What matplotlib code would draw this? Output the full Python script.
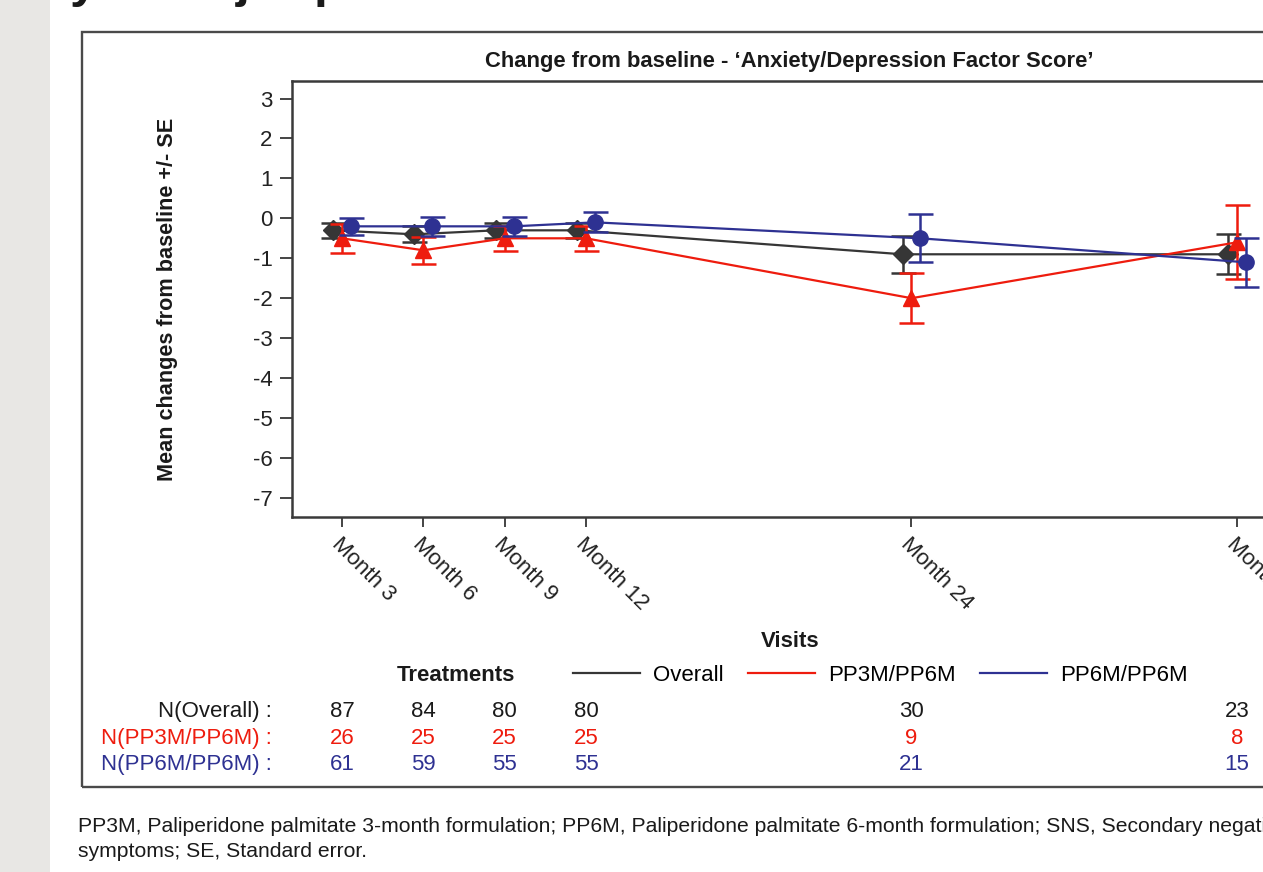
import matplotlib
matplotlib.use("Agg")
import matplotlib.pyplot as plt
import matplotlib.transforms as mtransforms
from matplotlib.patches import Rectangle
from matplotlib.lines import Line2D

plt.rcParams['font.family'] = ['Liberation Sans', 'DejaVu Sans']

# data
visits = ["Month 3", "Month 6", "Month 9", "Month 12", "Month 24", "Month 36"]
months = [3, 6, 9, 12, 24, 36]

overall_mean = [-0.3, -0.4, -0.3, -0.3, -0.9, -0.9]
overall_se = [0.19, 0.2, 0.18, 0.19, 0.47, 0.5]
pp3m_mean = [-0.5, -0.8, -0.5, -0.5, -2.0, -0.6]
pp3m_se = [0.37, 0.34, 0.32, 0.32, 0.63, 0.93]
pp6m_mean = [-0.2, -0.2, -0.2, -0.1, -0.5, -1.1]
pp6m_se = [0.22, 0.24, 0.24, 0.25, 0.6, 0.62]

n_overall = [87, 84, 80, 80, 30, 23]
n_pp3m = [26, 25, 25, 25, 9, 8]
n_pp6m = [61, 59, 55, 55, 21, 15]

yticks = [3, 2, 1, 0, -1, -2, -3, -4, -5, -6, -7]

c_all = "#363636"
c_red = "#ee1c0e"
c_blue = "#2e3192"

W, H = 1263, 872
fig = plt.figure(figsize=(W / 100, H / 100), dpi=100)

def fx(px):
    return px / W

def fy(py):
    return 1 - py / H

# page background bits
fig.patches.append(Rectangle((0, 0), fx(50), 1, transform=fig.transFigure,
                             facecolor="#e8e7e4", edgecolor="none", zorder=0))
fig.patches.append(Rectangle((fx(82), fy(787)), 1.0, fy(32) - fy(787),
                             transform=fig.transFigure, facecolor="none",
                             edgecolor="#4a4a4a", linewidth=1.7, zorder=1))
# cut-off heading above the frame
for ch, x in [("y", 70), ("j", 236), ("p", 314)]:
    fig.text(fx(x), 1.003, ch, fontsize=36, fontweight="bold", va="baseline",
             ha="left", color="#1a1a1a")

ax = fig.add_axes([fx(292), fy(517), fx(1286) - fx(292), fy(81) - fy(517)])

dodge = 0.33
ekw = dict(lw=1.6, elinewidth=1.8, capsize=9, capthick=1.8)
ax.errorbar([m - dodge for m in months], overall_mean, yerr=overall_se,
            color=c_all, marker="D", ms=10.5, zorder=3, **ekw)
ax.errorbar(months, pp3m_mean, yerr=pp3m_se, color=c_red, marker="^",
            ms=11, zorder=4, **ekw)
ax.errorbar([m + dodge for m in months], pp6m_mean, yerr=pp6m_se,
            color=c_blue, marker="o", ms=11, zorder=5, **ekw)

ax.set_xlim(1.157, 37.81)
ax.set_ylim(-7.48, 3.44)
ax.set_yticks(yticks)
ax.set_yticklabels([str(v) for v in yticks])
ax.set_xticks(months)
ax.set_xticklabels(visits, rotation=-45, ha="left", va="top",
                   rotation_mode="anchor")
for lab in ax.get_xticklabels():
    lab.set_transform(lab.get_transform() +
                      mtransforms.ScaledTranslation(-10 / 100, -2 / 100, fig.dpi_scale_trans))
ax.tick_params(axis="y", length=8.6, width=1.3, pad=5.5, labelsize=16,
               color=c_all, labelcolor="#222222")
ax.tick_params(axis="x", length=7, width=1.3, pad=5, labelsize=16,
               color=c_all, labelcolor="#222222")
for s in ax.spines.values():
    s.set_color("#3a3a3a")
    s.set_linewidth(1.8)

fig.text(fx(789), fy(62), "Change from baseline - \u2018Anxiety/Depression Factor Score\u2019",
         fontsize=15.8, fontweight="bold", ha="center", va="center", color="#1a1a1a")
fig.text(fx(168), fy(299), "Mean changes from baseline +/- SE", rotation=90,
         fontsize=15.6, fontweight="bold", ha="center", va="center", color="#1a1a1a")
fig.text(fx(790), fy(641), "Visits", fontsize=16, fontweight="bold",
         ha="center", va="center", color="#1a1a1a")
fig.text(fx(456), fy(675), "Treatments", fontsize=16, fontweight="bold",
         ha="center", va="center", color="#1a1a1a")

handles = [Line2D([], [], color=c_all, lw=1.6),
           Line2D([], [], color=c_red, lw=1.6),
           Line2D([], [], color=c_blue, lw=1.6)]
fig.legend(handles, ["Overall", "PP3M/PP6M", "PP6M/PP6M"], ncol=3,
           loc="center left", bbox_to_anchor=(fx(573), fy(675)),
           frameon=False, fontsize=16, handlelength=3.0, handletextpad=0.6,
           columnspacing=1.1, borderpad=0, borderaxespad=0)

# N at risk table
trans = mtransforms.blended_transform_factory(ax.transData, fig.transFigure)
rows = [("N(Overall) :", n_overall, "#1a1a1a", 711),
        ("N(PP3M/PP6M) :", n_pp3m, c_red, 738),
        ("N(PP6M/PP6M) :", n_pp6m, c_blue, 764)]
for label, vals, col, ypx in rows:
    fig.text(fx(272), fy(ypx), label, fontsize=16, color=col,
             ha="right", va="center")
    for m, v in zip(months, vals):
        ax.text(m, fy(ypx), str(v), transform=trans, fontsize=16, color=col,
                ha="center", va="center", clip_on=False)

fig.text(fx(78), fy(826),
         "PP3M, Paliperidone palmitate 3-month formulation; PP6M, Paliperidone "
         "palmitate 6-month formulation; SNS, Secondary negative",
         fontsize=15.2, ha="left", va="center", color="#1a1a1a")
fig.text(fx(78), fy(851), "symptoms; SE, Standard error.",
         fontsize=15.2, ha="left", va="center", color="#1a1a1a")

fig.savefig("out.png", dpi=100)
